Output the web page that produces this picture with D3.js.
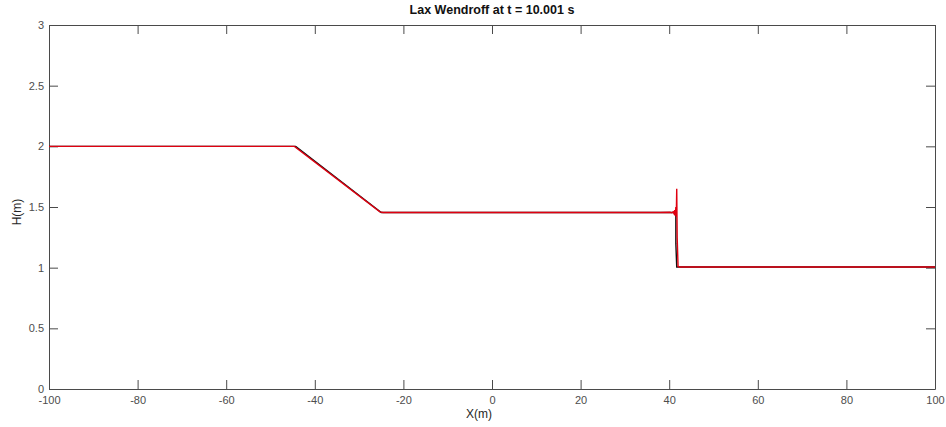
<!DOCTYPE html>
<html>
<head>
<meta charset="utf-8">
<script src="https://cdn.jsdelivr.net/npm/d3@7"></script>
<style>
  body { margin: 0; background: #fff; }
  svg { display: block; }
</style>
</head>
<body>
<div id="chart"></div>
<script>
// exact (black) and Lax-Wendroff (red) water depth profiles
const exactX = [-100, -44.3, -25.0, 41.5, 41.5, 41.7, 100];
const exactH = [2.0, 2.0, 1.455, 1.455, 1.2, 1.005, 1.005];

const laxX = [-100, -44.6, -25.3, -24.6, 38, 40.2, 40.6, 40.9, 41.1, 41.25, 41.4, 41.5, 41.6, 41.7, 41.8, 42.0, 42.3, 100];
const laxH = [2.0, 2.0, 1.46, 1.455, 1.455, 1.457, 1.452, 1.46, 1.445, 1.475, 1.43, 1.5, 1.42, 1.65, 1.25, 1.01, 1.005, 1.005];

const xTicks = [-100, -80, -60, -40, -20, 0, 20, 40, 60, 80, 100];
const yTicks = [0, 0.5, 1, 1.5, 2, 2.5, 3];

const titleText = "Lax Wendroff at t = 10.001 s";

const width = 946, height = 427;
const margin = { top: 25, right: 11, bottom: 38, left: 49 };

const svg = d3.select("#chart").append("svg")
  .attr("width", width)
  .attr("height", height)
  .attr("font-family", "'Liberation Sans', Arial, Helvetica, sans-serif");

const x = d3.scaleLinear().domain([-100, 100]).range([margin.left, width - margin.right]);
const y = d3.scaleLinear().domain([0, 3]).range([height - margin.bottom, margin.top]);

const axisColor = "#4a4a4a";
const tickLen = 9;

// axes with inward ticks (matlab style), plain hyphen for negatives
const gx = svg.append("g")
  .attr("transform", `translate(0,${y(0)})`)
  .call(d3.axisBottom(x).tickValues(xTicks).tickSizeInner(-tickLen).tickSizeOuter(0).tickPadding(5).tickFormat(d => String(d)));
const gxTop = svg.append("g")
  .attr("transform", `translate(0,${y(3)})`)
  .call(d3.axisTop(x).tickValues(xTicks).tickSizeInner(-tickLen).tickSizeOuter(0).tickFormat(""));
const gy = svg.append("g")
  .attr("transform", `translate(${x(-100)},0)`)
  .call(d3.axisLeft(y).tickValues(yTicks).tickSizeInner(-tickLen).tickSizeOuter(0).tickPadding(5).tickFormat(d => String(d)));
const gyRight = svg.append("g")
  .attr("transform", `translate(${x(100)},0)`)
  .call(d3.axisRight(y).tickValues(yTicks).tickSizeInner(-tickLen).tickSizeOuter(0).tickFormat(""));

[gx, gxTop, gy, gyRight].forEach(g => {
  g.select(".domain").attr("stroke", axisColor);
  g.selectAll(".tick line").attr("stroke", axisColor);
  g.selectAll(".tick text").attr("fill", "#4d4d4d").attr("font-size", 11);
});
gx.selectAll(".tick text").attr("dy", "0.9em");

const line = d3.line().x(d => x(d[0])).y(d => y(d[1]));

svg.append("path")
  .datum(exactX.map((v, i) => [v, exactH[i]]))
  .attr("fill", "none")
  .attr("stroke", "#111")
  .attr("stroke-width", 1.4)
  .attr("d", line);

svg.append("path")
  .datum(laxX.map((v, i) => [v, laxH[i]]))
  .attr("fill", "none")
  .attr("stroke", "#e00010")
  .attr("stroke-width", 1.4)
  .attr("d", line);

// labels
svg.append("text")
  .attr("x", (x(-100) + x(100)) / 2)
  .attr("y", 14)
  .attr("text-anchor", "middle")
  .attr("font-size", 12.5)
  .attr("font-weight", "bold")
  .attr("fill", "#111")
  .text(titleText);

svg.append("text")
  .attr("x", x(0) - 13)
  .attr("y", 418)
  .attr("text-anchor", "middle")
  .attr("font-size", 12)
  .attr("fill", "#262626")
  .text("X(m)");

svg.append("text")
  .attr("transform", `translate(21,${y(1.5) + 5}) rotate(-90)`)
  .attr("text-anchor", "middle")
  .attr("font-size", 12)
  .attr("fill", "#262626")
  .text("H(m)");
</script>
</body>
</html>
